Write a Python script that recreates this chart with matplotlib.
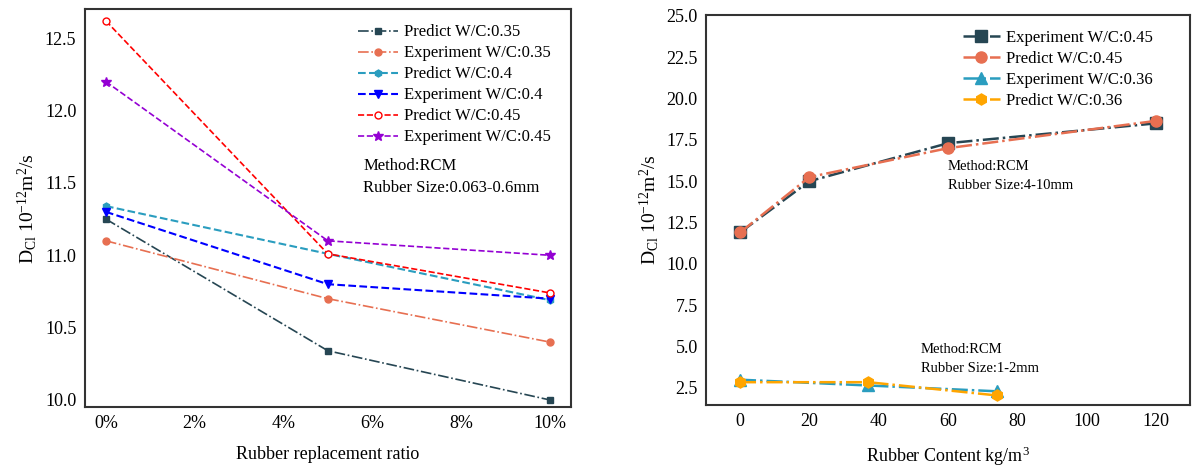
import matplotlib

matplotlib.use("Agg")
import matplotlib.pyplot as plt

plt.rcParams["font.family"] = ["Liberation Serif", "DejaVu Serif"]
plt.rcParams["mathtext.fontset"] = "custom"
plt.rcParams["mathtext.rm"] = "Liberation Serif"
plt.rcParams["mathtext.it"] = "Liberation Serif:italic"

# left panel: rubber replacement ratio (%)
ratio = [0, 5, 10]
pred_035 = [11.25, 10.34, 10.0]
exp_035 = [11.1, 10.7, 10.4]
pred_040 = [11.34, 11.01, 10.69]
exp_040 = [11.3, 10.8, 10.7]
pred_045 = [12.62, 11.01, 10.74]
exp_045 = [12.2, 11.1, 11.0]
left_ticks = [0, 2, 4, 6, 8, 10]
left_ticklabels = ["0%", "2%", "4%", "6%", "8%", "10%"]

# right panel: rubber content (kg/m3)
content_a = [0, 20, 60, 120]
exp_a = [11.9, 15.0, 17.3, 18.5]
pred_a = [11.9, 15.25, 17.0, 18.65]
content_b = [0, 37, 74]
exp_b = [3.0, 2.65, 2.3]
pred_b = [2.85, 2.85, 2.05]

DARK = "#264653"
CORAL = "#E76F51"
TEAL = "#2A9DBF"
ORANGE = "#FFA500"

fig = plt.figure(figsize=(12.02, 4.68), dpi=100)
ax1 = fig.add_axes([0.0704, 0.130, 0.4047, 0.850])
ax2 = fig.add_axes([0.5874, 0.1346, 0.4027, 0.833])

ax1.plot(ratio, pred_035, ls="-.", color=DARK, marker="s", ms=5, lw=1.2, label="Predict W/C:0.35")
ax1.plot(ratio, exp_035, ls="-.", color=CORAL, marker="o", ms=5, lw=1.2, label="Experiment W/C:0.35")
ax1.plot(ratio, pred_040, ls="--", color=TEAL, marker="h", ms=5, lw=1.5, label="Predict W/C:0.4")
ax1.plot(ratio, exp_040, ls="--", color="blue", marker="v", ms=6, lw=1.5, label="Experiment W/C:0.4")
ax1.plot(ratio, pred_045, ls="--", color="red", marker="o", ms=5, mfc="white", lw=1.2, label="Predict W/C:0.45")
ax1.plot(ratio, exp_045, ls="--", color="darkviolet", marker="*", ms=7, lw=1.2, label="Experiment W/C:0.45")

ax1.set_xlim(-0.48, 10.48)
ax1.set_ylim(9.95, 12.70)
ax1.set_xticks(left_ticks)
ax1.set_xticklabels(left_ticklabels)
ax1.set_yticks([10.0, 10.5, 11.0, 11.5, 12.0, 12.5])
ax1.set_yticklabels(["10.0", "10.5", "11.0", "11.5", "12.0", "12.5"])
ax1.set_xlabel("Rubber replacement ratio", fontsize=13, labelpad=10)
ax1.set_ylabel(r"$\mathrm{D_{Cl}\ 10^{-12}m^2/s}$", fontsize=14)
ax1.legend(loc="upper right", frameon=False, fontsize=12, bbox_to_anchor=(0.99, 1.0),
           handlelength=2.4, handletextpad=0.4, labelspacing=0.3)
ax1.text(5.8, 11.67, "Method:RCM\nRubber Size:0.063-0.6mm", fontsize=12, va="top", linespacing=1.45)

ax2.plot(content_a, exp_a, ls="-.", color=DARK, marker="s", ms=8, lw=1.8, label="Experiment W/C:0.45")
ax2.plot(content_a, pred_a, ls="-.", color=CORAL, marker="o", ms=8, lw=1.8, label="Predict W/C:0.45")
ax2.plot(content_b, exp_b, ls="-.", color=TEAL, marker="^", ms=8, lw=1.8, label="Experiment W/C:0.36")
ax2.plot(content_b, pred_b, ls="-.", color=ORANGE, marker="h", ms=8, lw=1.8, label="Predict W/C:0.36")

ax2.set_xlim(-9.8, 129.8)
ax2.set_ylim(1.47, 25.04)
ax2.set_xticks([0, 20, 40, 60, 80, 100, 120])
ax2.set_yticks([2.5, 5.0, 7.5, 10.0, 12.5, 15.0, 17.5, 20.0, 22.5, 25.0])
ax2.set_yticklabels(["2.5", "5.0", "7.5", "10.0", "12.5", "15.0", "17.5", "20.0", "22.5", "25.0"])
ax2.set_xlabel(r"Rubber Content kg/m$^3$", fontsize=13, labelpad=10)
ax2.set_ylabel(r"$\mathrm{D_{Cl}\ 10^{-12}m^2/s}$", fontsize=14)
ax2.legend(loc="upper right", frameon=False, fontsize=12, bbox_to_anchor=(0.955, 1.0),
           handlelength=2.2, handletextpad=0.4, labelspacing=0.3)
ax2.text(60, 16.3, "Method:RCM\nRubber Size:4-10mm", fontsize=10.5, va="top", linespacing=1.6)
ax2.text(52.2, 5.2, "Method:RCM\nRubber Size:1-2mm", fontsize=10.5, va="top", linespacing=1.6)

for ax in (ax1, ax2):
    ax.tick_params(length=0, labelsize=13, pad=6)
    for s in ax.spines.values():
        s.set_color("#333333")
        s.set_linewidth(1.5)

fig.savefig("out.png", dpi=100)
